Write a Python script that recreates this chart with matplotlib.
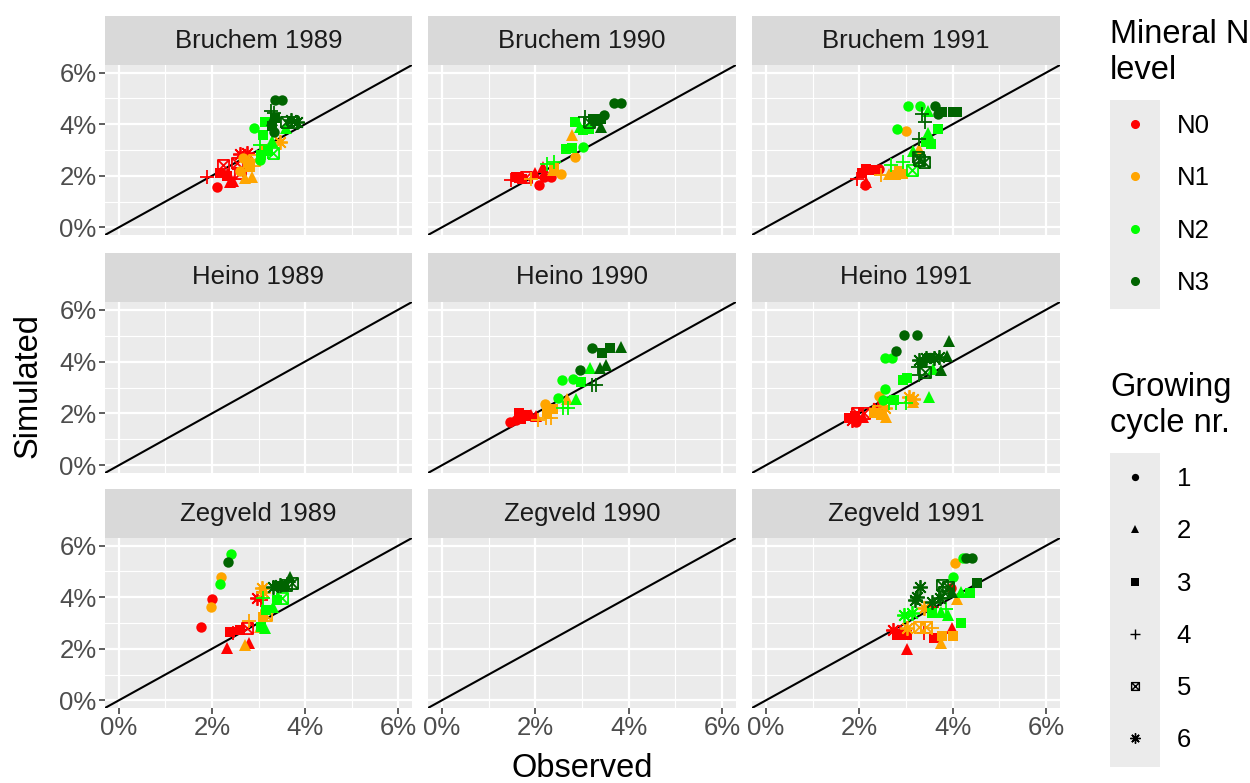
import matplotlib
matplotlib.use("Agg")
import matplotlib.pyplot as plt
from matplotlib.path import Path
from matplotlib.lines import Line2D
from matplotlib.patches import Rectangle
from matplotlib.ticker import FuncFormatter

plt.rcParams["font.family"] = ["Liberation Sans", "DejaVu Sans"]

# (observed %, simulated %, mineral N level, growing cycle)
bruchem_1989 = [
    (3.35, 4.95, 'N3', 1), (3.5, 4.95, 'N3', 1), (3.27, 4.53, 'N3', 4), (3.33, 4.45, 'N3', 4),
    (3.3, 4.15, 'N3', 2), (3.35, 4.25, 'N3', 3), (3.3, 3.95, 'N3', 3), (3.6, 4.07, 'N3', 5),
    (3.75, 4.1, 'N3', 5), (3.83, 4.07, 'N3', 6), (3.7, 4.15, 'N3', 6), (3.33, 3.68, 'N3', 1),
    (3.14, 4.07, 'N2', 3), (2.9, 3.84, 'N2', 1), (3.1, 3.57, 'N2', 3), (3.6, 3.84, 'N2', 2),
    (3.03, 3.18, 'N2', 4), (3.2, 2.98, 'N2', 3), (3.31, 2.9, 'N2', 5), (3.03, 2.6, 'N2', 1),
    (3.3, 3.35, 'N2', 2), (3.05, 2.8, 'N2', 3),
    (3.46, 3.3, 'N1', 6), (3.15, 3.05, 'N1', 3), (2.67, 2.7, 'N1', 1), (2.77, 2.48, 'N1', 3),
    (2.82, 2.33, 'N1', 3), (2.7, 1.9, 'N1', 2), (2.85, 1.94, 'N1', 2), (2.6, 2.2, 'N1', 1),
    (2.9, 2.6, 'N1', 5),
    (2.75, 2.9, 'N0', 6), (2.24, 2.4, 'N0', 5), (2.54, 2.48, 'N0', 5), (2.17, 2.1, 'N0', 3),
    (2.32, 2.0, 'N0', 3), (1.9, 1.95, 'N0', 4), (2.1, 1.55, 'N0', 1), (2.39, 1.75, 'N0', 2),
    (2.45, 1.8, 'N0', 2), (2.6, 2.1, 'N0', 5), (2.6, 2.85, 'N0', 6),
]
bruchem_1990 = [
    (3.68, 4.82, 'N3', 1), (3.84, 4.82, 'N3', 1), (3.48, 4.34, 'N3', 1), (3.06, 4.28, 'N3', 4),
    (3.24, 4.21, 'N3', 3), (3.41, 4.21, 'N3', 3), (3.41, 3.89, 'N3', 2), (3.15, 4.1, 'N3', 5),
    (3.3, 4.15, 'N3', 2),
    (2.84, 4.08, 'N2', 3), (3.02, 3.76, 'N2', 3), (3.16, 3.83, 'N2', 3), (2.66, 3.05, 'N2', 3),
    (2.79, 3.09, 'N2', 3), (3.02, 3.11, 'N2', 1), (2.41, 2.53, 'N2', 4), (2.26, 2.47, 'N2', 4),
    (2.95, 3.9, 'N2', 2),
    (2.79, 3.6, 'N1', 2), (2.84, 2.72, 'N1', 1), (2.55, 2.08, 'N1', 1), (2.37, 2.21, 'N1', 2),
    (1.9, 1.89, 'N1', 4), (2.4, 2.3, 'N1', 3),
    (2.16, 2.34, 'N0', 2), (2.19, 1.95, 'N0', 1), (2.34, 1.95, 'N0', 1), (2.07, 1.63, 'N0', 1),
    (1.58, 1.95, 'N0', 3), (1.72, 1.89, 'N0', 3), (1.47, 1.82, 'N0', 4), (1.8, 1.95, 'N0', 5),
    (1.65, 1.9, 'N0', 3), (2.0, 2.1, 'N0', 2),
]
bruchem_1991 = [
    (3.05, 4.69, 'N2', 1), (3.3, 4.69, 'N2', 1), (3.63, 4.69, 'N3', 1), (3.48, 4.51, 'N2', 2),
    (3.34, 4.4, 'N3', 4), (3.41, 4.08, 'N3', 4), (3.78, 4.47, 'N3', 3), (4.0, 4.47, 'N3', 3),
    (4.1, 4.47, 'N3', 3), (3.68, 4.4, 'N3', 1),
    (2.8, 3.82, 'N2', 1), (3.0, 3.73, 'N1', 1), (3.68, 3.82, 'N2', 3), (3.28, 3.44, 'N3', 4),
    (3.48, 3.66, 'N2', 2), (3.43, 3.31, 'N2', 3), (3.53, 3.24, 'N2', 3), (3.28, 3.05, 'N1', 2),
    (3.14, 2.98, 'N2', 2), (3.25, 2.72, 'N3', 5), (3.39, 2.53, 'N3', 5), (3.28, 2.6, 'N3', 5),
    (3.13, 2.21, 'N2', 5), (2.93, 2.53, 'N2', 4), (2.68, 2.4, 'N2', 4),
    (2.64, 2.08, 'N1', 2), (2.78, 2.02, 'N1', 3), (2.93, 2.08, 'N1', 3), (2.46, 2.02, 'N1', 4),
    (2.85, 2.2, 'N1', 3),
    (2.14, 2.27, 'N0', 3), (2.28, 2.21, 'N0', 3), (2.43, 2.27, 'N0', 1), (1.96, 1.89, 'N0', 4),
    (2.13, 1.63, 'N0', 1), (2.15, 1.75, 'N0', 2), (2.05, 2.1, 'N0', 3),
]
heino_1989 = []
heino_1990 = [
    (3.22, 4.52, 'N3', 1), (3.43, 4.35, 'N3', 3), (3.6, 4.52, 'N3', 3), (3.84, 4.55, 'N3', 2),
    (2.95, 3.68, 'N3', 1), (3.38, 3.77, 'N3', 2), (3.51, 3.88, 'N3', 2), (3.22, 3.1, 'N3', 4),
    (3.31, 3.1, 'N3', 4),
    (3.17, 3.77, 'N2', 2), (2.57, 3.29, 'N2', 1), (2.8, 3.32, 'N2', 1), (2.98, 3.23, 'N2', 3),
    (2.48, 2.59, 'N2', 1), (2.87, 2.55, 'N2', 2), (2.6, 2.2, 'N2', 4), (2.69, 2.2, 'N2', 4),
    (2.67, 2.55, 'N1', 2), (2.21, 2.36, 'N1', 1), (2.37, 2.16, 'N1', 3), (2.05, 1.74, 'N1', 4),
    (2.23, 1.81, 'N1', 4), (2.34, 1.81, 'N1', 4), (2.25, 2.05, 'N1', 3),
    (1.65, 2.0, 'N0', 3), (1.8, 1.94, 'N0', 3), (1.45, 1.68, 'N0', 1), (1.58, 1.74, 'N0', 1),
    (2.01, 1.9, 'N0', 2), (1.9, 1.95, 'N0', 2), (1.7, 1.8, 'N0', 3),
]
heino_1991 = [
    (2.96, 5.04, 'N3', 1), (3.23, 5.04, 'N3', 1), (3.93, 4.78, 'N3', 2), (2.78, 4.39, 'N3', 1),
    (2.55, 4.14, 'N2', 1), (2.71, 4.14, 'N2', 1),
    (3.28, 4.07, 'N3', 6), (3.43, 4.14, 'N3', 6), (3.61, 4.14, 'N3', 6), (3.71, 4.17, 'N3', 6),
    (3.87, 4.2, 'N3', 2), (3.35, 3.95, 'N3', 3), (3.5, 4.15, 'N3', 3), (3.25, 3.81, 'N3', 4),
    (3.28, 3.49, 'N3', 4), (3.4, 3.6, 'N3', 5), (3.75, 3.68, 'N3', 2),
    (3.57, 3.71, 'N2', 2), (2.93, 3.29, 'N2', 3), (3.03, 3.36, 'N2', 3), (2.55, 2.93, 'N2', 1),
    (2.5, 2.5, 'N2', 1), (3.5, 2.62, 'N2', 2), (2.64, 2.39, 'N2', 4), (2.78, 2.39, 'N2', 4),
    (3.0, 2.39, 'N2', 4), (2.75, 2.5, 'N2', 3),
    (2.43, 2.67, 'N1', 1), (3.07, 2.62, 'N1', 6), (3.14, 2.55, 'N1', 6), (3.15, 2.45, 'N1', 2),
    (2.32, 2.0, 'N1', 3), (2.46, 1.94, 'N1', 3), (2.57, 1.87, 'N1', 2), (2.4, 2.1, 'N1', 5),
    (2.55, 2.2, 'N1', 6),
    (1.78, 1.81, 'N0', 3), (1.93, 1.68, 'N0', 1), (2.07, 1.87, 'N0', 2), (1.96, 2.0, 'N0', 5),
    (1.85, 1.75, 'N0', 6), (2.0, 1.78, 'N0', 4), (1.9, 1.9, 'N0', 3), (2.1, 2.0, 'N0', 5),
    (2.4, 2.2, 'N0', 6),
]
zegveld_1989 = [
    (2.4, 5.66, 'N2', 1), (2.34, 5.38, 'N3', 1), (2.19, 4.8, 'N1', 1), (2.17, 4.51, 'N2', 1),
    (2.01, 3.92, 'N0', 1), (1.97, 3.62, 'N1', 1), (1.76, 2.86, 'N0', 1),
    (2.32, 2.03, 'N0', 2), (2.71, 2.15, 'N1', 2), (2.8, 2.24, 'N0', 2),
    (2.46, 2.63, 'N0', 4), (2.39, 2.67, 'N0', 3), (2.6, 2.73, 'N0', 3), (2.75, 2.8, 'N0', 5),
    (2.8, 3.06, 'N1', 4), (3.1, 3.23, 'N1', 3), (3.17, 3.32, 'N1', 5), (3.03, 2.86, 'N1', 2),
    (3.14, 2.8, 'N2', 2), (3.05, 2.85, 'N2', 3),
    (3.17, 3.51, 'N2', 3), (3.31, 3.64, 'N2', 2), (3.39, 3.9, 'N2', 3), (3.5, 3.96, 'N2', 5),
    (2.96, 3.96, 'N0', 6), (3.05, 3.9, 'N0', 4), (3.07, 4.35, 'N1', 6), (3.1, 4.22, 'N1', 6),
    (3.1, 3.96, 'N2', 4),
    (3.31, 4.41, 'N3', 6), (3.46, 4.48, 'N3', 6), (3.68, 4.8, 'N3', 2), (3.71, 4.54, 'N3', 5),
    (3.6, 4.48, 'N3', 5), (3.55, 4.45, 'N3', 3), (3.4, 4.45, 'N3', 3),
]
zegveld_1990 = []
zegveld_1991 = [
    (4.29, 5.51, 'N3', 1), (4.41, 5.51, 'N3', 1), (4.23, 5.51, 'N2', 1), (4.06, 5.32, 'N1', 1),
    (4.0, 4.8, 'N2', 1), (3.97, 4.35, 'N0', 1),
    (3.77, 4.48, 'N3', 5), (3.81, 4.22, 'N3', 5), (3.91, 4.41, 'N3', 5), (3.99, 4.22, 'N3', 2),
    (4.53, 4.54, 'N3', 3), (4.17, 4.22, 'N2', 2), (4.38, 4.18, 'N2', 3), (4.1, 3.93, 'N1', 2),
    (3.31, 4.41, 'N3', 6), (3.24, 4.02, 'N3', 6), (3.2, 3.9, 'N3', 6), (3.73, 3.96, 'N3', 6),
    (3.56, 3.83, 'N3', 6),
    (2.95, 3.32, 'N2', 6), (3.13, 3.38, 'N2', 6), (3.56, 3.38, 'N2', 3), (3.74, 3.44, 'N2', 2),
    (3.91, 3.32, 'N2', 2), (4.17, 2.99, 'N2', 3), (3.85, 3.55, 'N2', 4),
    (3.39, 3.57, 'N1', 6), (3.56, 3.64, 'N0', 4), (3.28, 2.86, 'N1', 5), (3.42, 2.86, 'N1', 5),
    (3.56, 2.8, 'N1', 4), (3.03, 2.8, 'N1', 6),
    (2.73, 2.73, 'N0', 6), (2.88, 2.67, 'N0', 6), (2.8, 2.54, 'N0', 3), (3.03, 2.54, 'N0', 3),
    (3.39, 2.6, 'N0', 4), (3.59, 2.41, 'N0', 3), (3.78, 2.48, 'N1', 3), (4.0, 2.48, 'N1', 3),
    (3.74, 2.22, 'N1', 2), (3.99, 2.8, 'N0', 2), (3.03, 1.99, 'N0', 2),
]

panels = [
    ("Bruchem 1989", bruchem_1989), ("Bruchem 1990", bruchem_1990), ("Bruchem 1991", bruchem_1991),
    ("Heino 1989", heino_1989), ("Heino 1990", heino_1990), ("Heino 1991", heino_1991),
    ("Zegveld 1989", zegveld_1989), ("Zegveld 1990", zegveld_1990), ("Zegveld 1991", zegveld_1991),
]

n_levels = ['N0', 'N1', 'N2', 'N3']
n_colors = {'N0': '#FF0000', 'N1': '#FFA500', 'N2': '#00FF00', 'N3': '#006400'}
cycles = [1, 2, 3, 4, 5, 6]

# square with a cross (ggplot shape 7)
boxx = Path([(-1, -1), (1, -1), (1, 1), (-1, 1), (-1, -1), (-1, -1), (1, 1), (-1, 1), (1, -1)],
            [Path.MOVETO, Path.LINETO, Path.LINETO, Path.LINETO, Path.LINETO,
             Path.MOVETO, Path.LINETO, Path.MOVETO, Path.LINETO])
markers = {1: 'o', 2: '^', 3: 's', 4: '+', 5: boxx, 6: (8, 2, 0)}
msize = {1: 7.5, 2: 8.5, 3: 7.5, 4: 10.5, 5: 8, 6: 10.5}

W, H = 1250, 783
fig = plt.figure(figsize=(12.5, 7.83), dpi=100)


def rect(x0, y0, x1, y1):
    return [x0 / W, 1 - y1 / H, (x1 - x0) / W, (y1 - y0) / H]


col_px = [(105, 412), (428, 736), (752, 1060)]
row_px = [(65, 235), (302, 473), (538, 708)]
strip_h = 49
pct = FuncFormatter(lambda v, _: f"{v:g}%")

for i, (name, pts) in enumerate(panels):
    r, c = divmod(i, 3)
    x0, x1 = col_px[c]
    y0, y1 = row_px[r]
    ax = fig.add_axes(rect(x0, y0, x1, y1))
    ax.set_facecolor('#EBEBEB')
    for s in ax.spines.values():
        s.set_visible(False)
    ax.set_xlim(-0.3, 6.3)
    ax.set_ylim(-0.3, 6.3)
    ax.set_xticks([0, 2, 4, 6])
    ax.set_yticks([0, 2, 4, 6])
    ax.set_xticks([1, 3, 5], minor=True)
    ax.set_yticks([1, 3, 5], minor=True)
    ax.grid(which='major', color='white', lw=1.6)
    ax.grid(which='minor', color='white', lw=0.8)
    ax.set_axisbelow(True)
    ax.xaxis.set_major_formatter(pct)
    ax.yaxis.set_major_formatter(pct)
    ax.tick_params(which='major', length=4, width=1.1, color='#333333',
                   labelsize=18.5, labelcolor='#4D4D4D', pad=2)
    ax.tick_params(which='minor', length=0)
    if c != 0:
        ax.tick_params(axis='y', length=0, labelleft=False)
    if r != 2:
        ax.tick_params(axis='x', length=0, labelbottom=False)

    ax.axline((0, 0), slope=1, color='black', lw=1.5, zorder=2)

    for lev in n_levels:
        for cy in cycles:
            xs = [p[0] for p in pts if p[2] == lev and p[3] == cy]
            ys = [p[1] for p in pts if p[2] == lev and p[3] == cy]
            if not xs:
                continue
            open_mk = cy in (4, 5, 6)
            ax.plot(xs, ys, ls='none', marker=markers[cy], ms=msize[cy],
                    color=n_colors[lev], mfc='none' if open_mk else n_colors[lev],
                    mew=1.3 if open_mk else 0, zorder=3)

    sax = fig.add_axes(rect(x0, y0 - strip_h, x1, y0))
    sax.set_facecolor('#D9D9D9')
    sax.set_xticks([])
    sax.set_yticks([])
    for s in sax.spines.values():
        s.set_visible(False)
    sax.text(0.5, 0.5, name, ha='center', va='center', fontsize=18.5, color='#1A1A1A',
             transform=sax.transAxes)

fig.text(28 / W, 1 - 386 / H, 'Simulated', rotation=90, ha='center', va='center', fontsize=23.5)
fig.text(582 / W, 1 - 753 / H, 'Observed', ha='center', va='top', fontsize=23.5)

# legends
col_handles = [Line2D([], [], ls='none', marker='o', ms=5.5, color=n_colors[l]) for l in n_levels]
shp_handles = [Line2D([], [], ls='none', marker=markers[c], ms=msize[c] * 0.7, color='black',
                      mfc='none' if c in (4, 5, 6) else 'black', mew=1.0 if c in (4, 5, 6) else 0)
               for c in cycles]

leg_fs = 18.5
hl = 50 / (leg_fs * 100 / 72)
leg_kw = dict(loc='upper left', frameon=False, fontsize=leg_fs, title_fontsize=23.5,
              handlelength=hl, handletextpad=0.65, labelspacing=1.1, borderpad=0,
              borderaxespad=0, alignment='left')
leg1 = fig.legend(col_handles, n_levels, title='Mineral N\nlevel',
                  bbox_to_anchor=(1110 / W, 1 - 19 / H), **leg_kw)
leg2 = fig.legend(shp_handles, [str(c) for c in cycles], title='Growing\ncycle nr.',
                  bbox_to_anchor=(1110 / W, 1 - 372 / H), **leg_kw)

fig.canvas.draw()
for leg in (leg1, leg2):
    cys = [t.get_window_extent().y0 + t.get_window_extent().height / 2 for t in leg.get_texts()]
    step = cys[0] - cys[1]
    lx = leg.get_window_extent().x0
    fig.add_artist(Rectangle((lx / W, (cys[-1] - step / 2) / H), 50 / W,
                             (cys[0] - cys[-1] + step) / H, transform=fig.transFigure,
                             facecolor='#EBEBEB', edgecolor='none', zorder=0.5))

fig.savefig('out.png', dpi=100)
